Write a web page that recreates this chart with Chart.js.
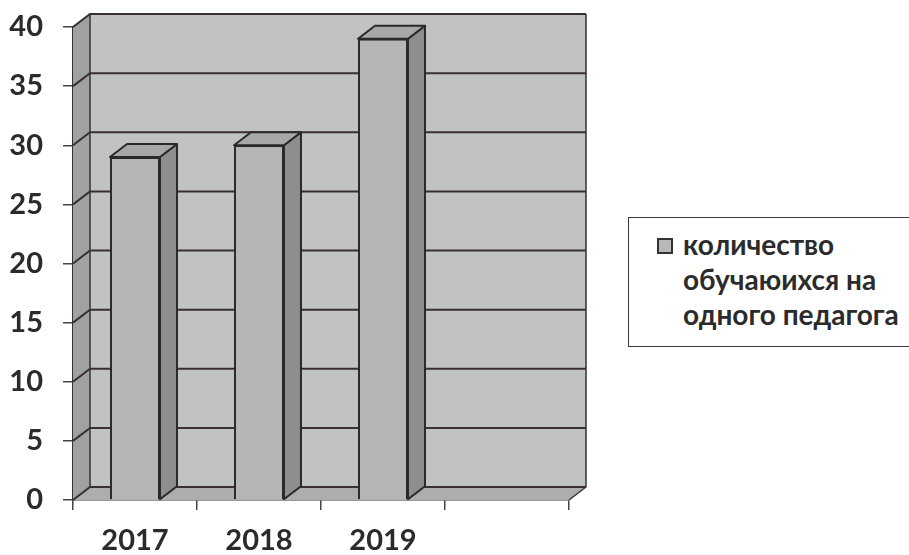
<!DOCTYPE html>
<html lang="ru">
<head>
<meta charset="utf-8">
<title>количество обучаюихся на одного педагога</title>
<script src="https://cdn.jsdelivr.net/npm/chart.js@4.4.1/dist/chart.umd.min.js"></script>
<style>
  html, body { margin: 0; padding: 0; background: #fff; }
  #wrap { position: relative; width: 909px; height: 555px; overflow: hidden; }
  #legend {
    position: absolute; left: 628px; top: 217px; width: 300px; height: 130px;
    border: 1.5px solid #3a3a3a; background: #fff; box-sizing: border-box;
    font-family: Lato, "Open Sans", sans-serif; font-weight: bold; font-size: 28px;
    line-height: 35px; color: #2b2b2b;
  }
  #legend .mark {
    position: absolute; left: 28px; top: 20px; width: 16px; height: 16px;
    box-sizing: border-box; border: 2px solid #333; background: #b6b9b8;
  }
  #legend .text { position: absolute; left: 54px; top: 9px; white-space: nowrap; }
</style>
</head>
<body>
<div id="wrap">
  <canvas id="chart" width="909" height="555"></canvas>
  <div id="legend"><div class="mark"></div><div class="text" id="legendText"></div></div>
</div>
<script>
// данные
const years = ['2017', '2018', '2019', ''];
const studentsPerTeacher = [29, 30, 39, null];
const yTicks = [0, 5, 10, 15, 20, 25, 30, 35, 40];
const seriesLines = ['количество', 'обучаюихся на', 'одного педагога'];

// глубина 3D
const dx = 17;
const dy = 13;

document.getElementById('legendText').innerHTML = seriesLines.join('<br>');

function poly(ctx, pts, fill, stroke, lw) {
  ctx.beginPath();
  ctx.moveTo(pts[0][0], pts[0][1]);
  for (let i = 1; i < pts.length; i++) ctx.lineTo(pts[i][0], pts[i][1]);
  ctx.closePath();
  if (fill) { ctx.fillStyle = fill; ctx.fill(); }
  if (stroke) { ctx.strokeStyle = stroke; ctx.lineWidth = lw; ctx.stroke(); }
}

const box3d = {
  id: 'box3d',
  beforeDatasetsDraw(chart) {
    const { ctx, chartArea: a, scales: { y } } = chart;
    ctx.save();
    // задняя стенка
    poly(ctx, [[a.left + dx, a.top - dy], [a.right + dx, a.top - dy], [a.right + dx, a.bottom - dy], [a.left + dx, a.bottom - dy]], '#c0c3c2');
    // левая стенка
    poly(ctx, [[a.left, a.top], [a.left + dx, a.top - dy], [a.left + dx, a.bottom - dy], [a.left, a.bottom]], '#9fa2a1');
    // пол
    poly(ctx, [[a.left, a.bottom], [a.left + dx, a.bottom - dy], [a.right + dx, a.bottom - dy], [a.right, a.bottom]], '#abaead');

    // линии сетки
    ctx.strokeStyle = '#3a2f2f';
    ctx.lineWidth = 2;
    yTicks.forEach(v => {
      const py = y.getPixelForValue(v);
      ctx.beginPath();
      ctx.moveTo(a.left, py);
      ctx.lineTo(a.left + dx, py - dy);
      ctx.lineTo(a.right + dx, py - dy);
      ctx.stroke();
    });
    // контуры
    ctx.lineWidth = 1.5;
    ctx.strokeStyle = '#333';
    ctx.beginPath();
    ctx.moveTo(a.left + dx, a.bottom - dy);
    ctx.lineTo(a.left + dx, a.top - dy);
    ctx.moveTo(a.right + dx, a.top - dy);
    ctx.lineTo(a.right + dx, a.bottom - dy);
    ctx.lineTo(a.right, a.bottom);
    ctx.stroke();
    ctx.restore();
  },
  afterDatasetsDraw(chart) {
    const { ctx } = chart;
    const meta = chart.getDatasetMeta(0);
    ctx.save();
    ctx.lineJoin = 'round';
    meta.data.forEach((bar, i) => {
      if (studentsPerTeacher[i] == null) return;
      const { x, y, base, width } = bar.getProps(['x', 'y', 'base', 'width'], true);
      const l = x - width / 2, r = x + width / 2;
      // боковая грань
      poly(ctx, [[r, y], [r + dx, y - dy], [r + dx, base - dy], [r, base]], '#8c8f8e', '#2a2a2a', 2);
      // верхняя грань
      poly(ctx, [[l, y], [l + dx, y - dy], [r + dx, y - dy], [r, y]], '#a6a9a8', '#2a2a2a', 2);
    });
    ctx.restore();
  }
};

const tickFont = { family: 'Lato, "Open Sans", sans-serif', size: 29, weight: 'bold' };

new Chart(document.getElementById('chart').getContext('2d'), {
  type: 'bar',
  data: {
    labels: years,
    datasets: [{
      label: seriesLines.join(' '),
      data: studentsPerTeacher,
      backgroundColor: '#b4b7b6',
      borderColor: '#2a2a2a',
      borderWidth: 2,
      categoryPercentage: 1,
      barPercentage: 0.403
    }]
  },
  options: {
    responsive: false,
    animation: false,
    layout: { padding: { left: 0, top: 27, right: 340, bottom: 0 } },
    plugins: {
      legend: { display: false },
      tooltip: { enabled: false }
    },
    scales: {
      x: {
        grid: { drawOnChartArea: false, tickLength: 10, color: '#444', lineWidth: 1.5 },
        border: { display: true, color: '#333', width: 1.5 },
        ticks: { font: tickFont, color: '#2b2b2b', padding: 13, maxRotation: 0 },
        afterFit: s => { s.height = 55; s.paddingLeft = 0; s.paddingRight = 0; }
      },
      y: {
        min: 0,
        max: 40,
        grid: { drawOnChartArea: false, tickLength: 10, color: '#444', lineWidth: 1.5 },
        border: { display: true, color: '#333', width: 1.5 },
        ticks: { stepSize: 5, font: tickFont, color: '#2b2b2b', padding: 20 },
        afterFit: s => { s.width = 73; s.paddingTop = 0; s.paddingBottom = 0; }
      }
    }
  },
  plugins: [box3d]
});
</script>
</body>
</html>
